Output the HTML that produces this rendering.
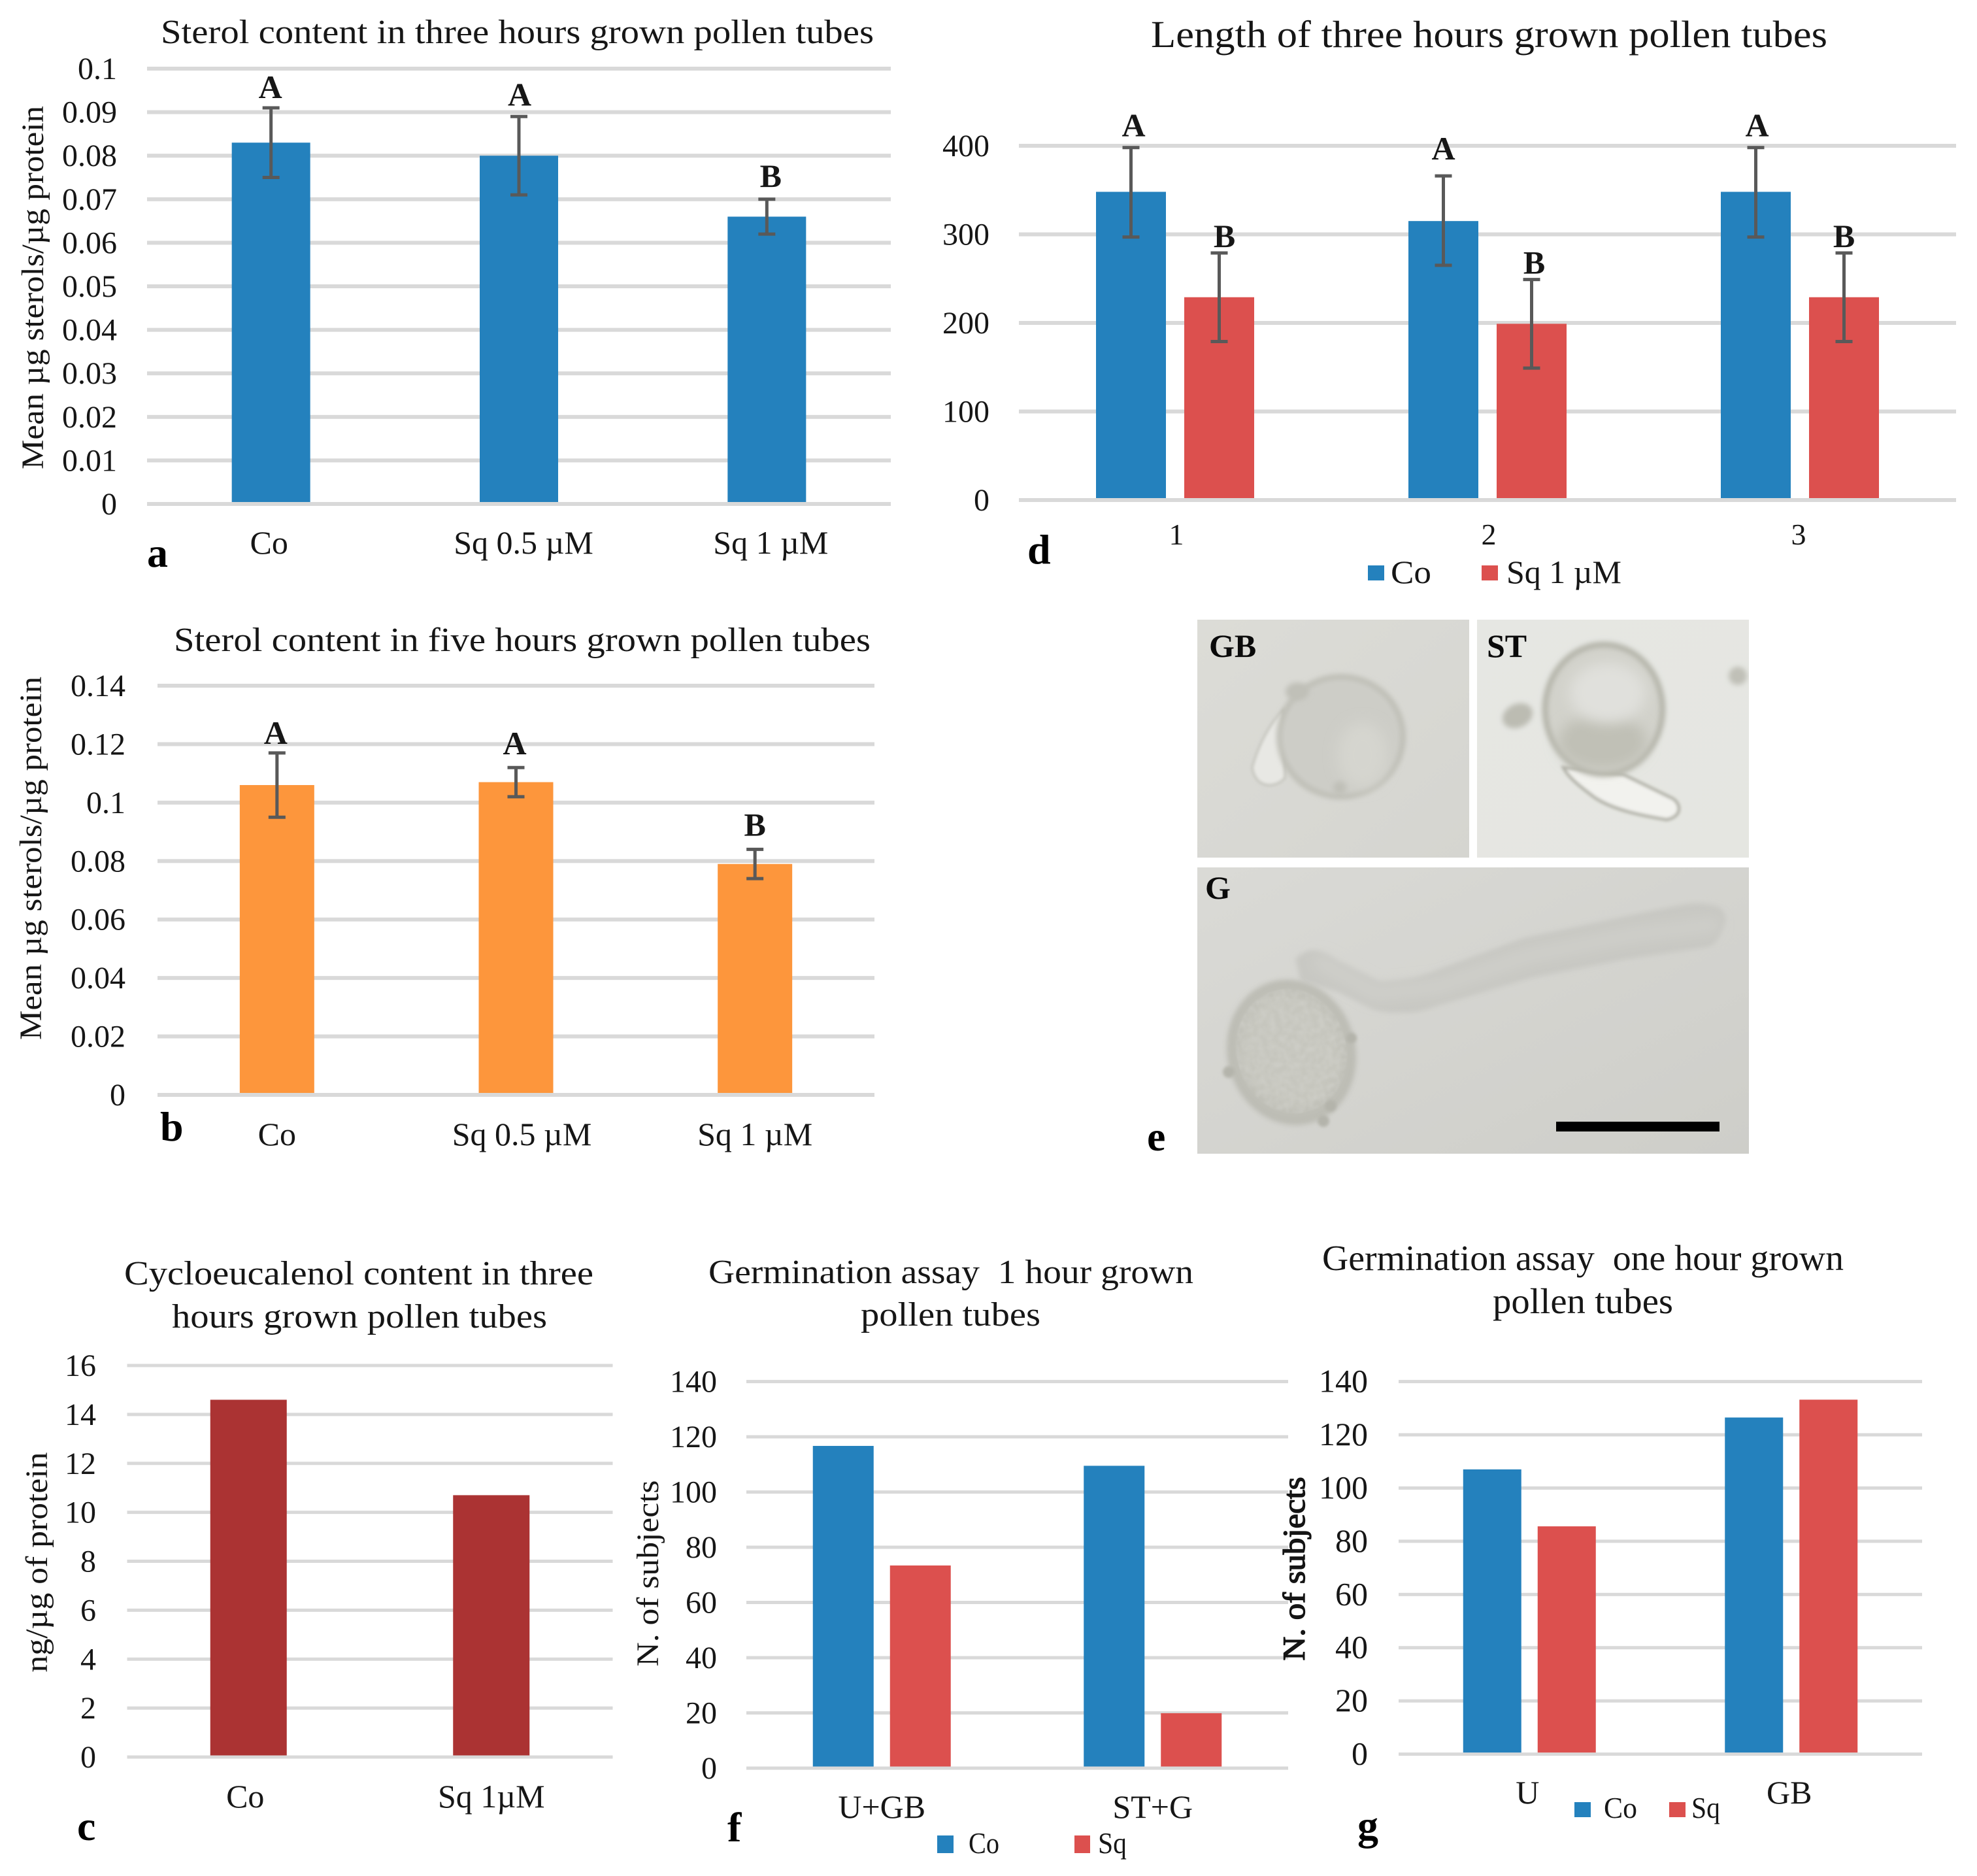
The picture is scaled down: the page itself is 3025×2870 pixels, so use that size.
<!DOCTYPE html>
<html lang="en">
<head>
<meta charset="utf-8">
<title>Sterol content and pollen tube germination figure</title>
<style>
html,body{margin:0;padding:0;background:#fff;}
body{width:3025px;height:2870px;overflow:hidden;}
svg{display:block;}
text{font-family:"Liberation Serif","DejaVu Serif",serif;fill:#161616;}
.panel-letter{font-size:64px;font-weight:bold;fill:#000;}
.title{font-size:52px;}
.axis-title{font-size:48px;}
.legend-text{font-size:46px;}
.micro-label{font-size:50px;font-weight:bold;fill:#0a0a0a;}
</style>
</head>
<body>
<svg id="figure" xmlns="http://www.w3.org/2000/svg" width="3025" height="2870" viewBox="0 0 3025 2870">
  <defs>
    <filter id="blur2" x="-30%" y="-30%" width="160%" height="160%"><feGaussianBlur stdDeviation="2.5"/></filter>
    <filter id="blur4" x="-30%" y="-30%" width="160%" height="160%"><feGaussianBlur stdDeviation="4"/></filter>
    <filter id="blur8" x="-50%" y="-50%" width="200%" height="200%"><feGaussianBlur stdDeviation="10"/></filter>
    <filter id="grain" x="0" y="0" width="100%" height="100%">
      <feTurbulence type="fractalNoise" baseFrequency="0.11" numOctaves="2" seed="4"/>
      <feColorMatrix type="matrix" values="0 0 0 0 0.66  0 0 0 0 0.66  0 0 0 0 0.62  1.8 0 0 0 -0.55"/>
      <feComposite in2="SourceGraphic" operator="in"/>
      <feGaussianBlur stdDeviation="1.2"/>
    </filter>
    <linearGradient id="bgGB" x1="0" y1="0" x2="1" y2="1"><stop offset="0" stop-color="#dcdcd7"/><stop offset="1" stop-color="#d5d5d0"/></linearGradient>
    <linearGradient id="bgST" x1="0" y1="0" x2="1" y2="1"><stop offset="0" stop-color="#e6e7e3"/><stop offset="1" stop-color="#e5e6e1"/></linearGradient>
    <linearGradient id="bgG" x1="0" y1="0" x2="1" y2="1"><stop offset="0" stop-color="#dadad6"/><stop offset="1" stop-color="#cecec9"/></linearGradient>
    <clipPath id="clipGB"><rect x="1832" y="948" width="416" height="364"/></clipPath>
    <clipPath id="clipST"><rect x="2260" y="948" width="416" height="364"/></clipPath>
    <clipPath id="clipG"><rect x="1832" y="1327" width="844" height="438"/></clipPath>
  </defs>

  <rect x="0" y="0" width="3025" height="2870" fill="#ffffff"/>

  <!-- Panel a -->
  <g id="chart-a">
    <text class="title" x="246" y="66" textLength="1091" lengthAdjust="spacingAndGlyphs">Sterol content in three hours grown pollen tubes</text>
    <text class="axis-title" transform="translate(66,440) rotate(-90)" text-anchor="middle" textLength="556" lengthAdjust="spacingAndGlyphs">Mean µg sterols/µg protein</text>
    <text class="panel-letter" x="225" y="867">a</text>
  </g>

  <!-- Panel b -->
  <g id="chart-b">
    <text class="title" x="266" y="996" textLength="1066" lengthAdjust="spacingAndGlyphs">Sterol content in five hours grown pollen tubes</text>
    <text class="axis-title" transform="translate(63,1313) rotate(-90)" text-anchor="middle" textLength="556" lengthAdjust="spacingAndGlyphs">Mean µg sterols/µg protein</text>
    <text class="panel-letter" x="245" y="1745">b</text>
  </g>

  <!-- Panel c -->
  <g id="chart-c">
    <text class="title" x="190" y="1965" textLength="718" lengthAdjust="spacingAndGlyphs">Cycloeucalenol content in three</text>
    <text class="title" x="263" y="2031" textLength="574" lengthAdjust="spacingAndGlyphs">hours grown pollen tubes</text>
    <text class="axis-title" transform="translate(72,2390) rotate(-90)" text-anchor="middle" textLength="337" lengthAdjust="spacingAndGlyphs">ng/µg of protein</text>
    <text class="panel-letter" x="118" y="2815">c</text>
  </g>

  <!-- Panel d -->
  <g id="chart-d">
    <text class="title" style="font-size:58px" x="1761" y="72" textLength="1035" lengthAdjust="spacingAndGlyphs">Length of three hours grown pollen tubes</text>
    <text class="panel-letter" x="1572" y="862">d</text>
    <g>
      <rect x="2093" y="865" width="25" height="23" fill="#2481bd"/>
      <text class="legend-text" style="font-size:50px" x="2128" y="892" textLength="62" lengthAdjust="spacingAndGlyphs">Co</text>
      <rect x="2267" y="865" width="25" height="23" fill="#dc504e"/>
      <text class="legend-text" style="font-size:50px" x="2305" y="892" textLength="176" lengthAdjust="spacingAndGlyphs">Sq 1 µM</text>
    </g>
  </g>

  <!-- Panel e: micrographs -->
  <g id="micrographs">
    <text class="panel-letter" x="1755" y="1760">e</text>

    <g clip-path="url(#clipGB)">
      <rect x="1832" y="948" width="416" height="364" fill="url(#bgGB)"/>
      <path d="M1964 1085 C1945 1105 1927 1135 1916 1174 C1920 1205 1950 1208 1966 1190 Z" fill="#e8e8e4" stroke="#c0c0b8" stroke-width="3" filter="url(#blur2)"/>
      <ellipse cx="2052" cy="1127" rx="95" ry="92" fill="#cdcdc7" stroke="#bbbbb2" stroke-width="7" filter="url(#blur4)"/>
      <ellipse cx="2085" cy="1155" rx="38" ry="50" fill="#d5d5cf" filter="url(#blur8)"/>
      <ellipse cx="1985" cy="1058" rx="18" ry="14" fill="#c0c0b8" filter="url(#blur4)"/>
      <circle cx="2050" cy="1205" r="10" fill="#c0c0b8" filter="url(#blur4)"/>
    </g>
    <text class="micro-label" x="1850" y="1005">GB</text>

    <g clip-path="url(#clipST)">
      <rect x="2260" y="948" width="416" height="364" fill="url(#bgST)"/>
      <ellipse cx="2322" cy="1095" rx="24" ry="18" transform="rotate(-25 2322 1095)" fill="#bcbcb2" filter="url(#blur4)"/>
      <circle cx="2659" cy="1034" r="14" fill="#c0c0b7" filter="url(#blur4)"/>
      <path d="M2484 1185 L2560 1222 C2574 1232 2572 1250 2550 1254 C2515 1248 2470 1240 2440 1220 C2420 1205 2400 1190 2392 1174 Z" fill="#f2f2ee" stroke="#b4b4aa" stroke-width="5" filter="url(#blur2)"/>
      <ellipse cx="2454" cy="1085" rx="90" ry="99" fill="#d2d2cb" stroke="#b0b0a5" stroke-width="8" filter="url(#blur4)"/>
      <ellipse cx="2452" cy="1135" rx="68" ry="42" fill="#c0c0b6" filter="url(#blur8)"/>
      <ellipse cx="2460" cy="1060" rx="58" ry="46" fill="#e0e0dc" filter="url(#blur8)"/>
    </g>
    <text class="micro-label" x="2275" y="1005">ST</text>

    <g clip-path="url(#clipG)">
      <rect x="1832" y="1327" width="844" height="438" fill="url(#bgG)"/>
      <path d="M1982 1466 C1995 1456 2005 1452 2013 1454 C2025 1456 2035 1462 2043 1468 L2111 1502 C2140 1500 2165 1498 2196 1485 L2331 1435 L2515 1396 L2570 1385 C2595 1380 2615 1382 2631 1388 C2642 1398 2642 1410 2637 1418 C2630 1436 2625 1445 2613 1449 L2484 1468 L2343 1496 L2202 1538 C2180 1546 2165 1550 2147 1549 C2125 1550 2110 1548 2098 1543 L2049 1518 L1990 1500 Z" fill="#c8c8c3" filter="url(#blur4)"/>
      <path d="M2020 1472 L2105 1520 L2200 1510 L2340 1462 L2500 1430 L2620 1415" fill="none" stroke="#cfcfca" stroke-width="22" stroke-linecap="round" filter="url(#blur8)"/>
      <ellipse cx="1976" cy="1610" rx="98" ry="112" transform="rotate(-15 1976 1610)" fill="#bcbcb4" filter="url(#blur4)"/>
      <ellipse cx="1976" cy="1608" rx="80" ry="92" transform="rotate(-15 1976 1608)" fill="#c6c6be" filter="url(#blur8)"/>
      <ellipse cx="1976" cy="1608" rx="84" ry="96" transform="rotate(-15 1976 1608)" fill="#888" filter="url(#grain)" opacity="0.55"/>
      <circle cx="1880" cy="1640" r="9" fill="#b4b4ab" filter="url(#blur2)"/>
      <circle cx="2068" cy="1588" r="8" fill="#b4b4ab" filter="url(#blur2)"/>
      <circle cx="2025" cy="1715" r="9" fill="#b4b4ab" filter="url(#blur2)"/>
      <circle cx="2036" cy="1692" r="9" fill="#b4b4ab" filter="url(#blur2)"/>
    </g>
    <rect x="2381" y="1716" width="250" height="15" fill="#000000"/>
    <text class="micro-label" x="1844" y="1375">G</text>
  </g>

  <!-- Panel f -->
  <g id="chart-f">
    <text class="title" x="1084" y="1963" textLength="742" lengthAdjust="spacingAndGlyphs" xml:space="preserve">Germination assay  1 hour grown</text>
    <text class="title" x="1317" y="2028" textLength="275" lengthAdjust="spacingAndGlyphs">pollen tubes</text>
    <text class="axis-title" transform="translate(1007,2407) rotate(-90)" text-anchor="middle" textLength="285" lengthAdjust="spacingAndGlyphs">N. of subjects</text>
    <text class="panel-letter" x="1113" y="2817">f</text>
    <g>
      <rect x="1434" y="2808" width="25" height="27" fill="#2481bd"/>
      <text class="legend-text" x="1482" y="2835" textLength="47" lengthAdjust="spacingAndGlyphs">Co</text>
      <rect x="1644" y="2808" width="24" height="27" fill="#dc504e"/>
      <text class="legend-text" x="1680" y="2835" textLength="44" lengthAdjust="spacingAndGlyphs">Sq</text>
    </g>
  </g>

  <!-- Panel g -->
  <g id="chart-g">
    <text class="title" style="font-size:55px" x="2023" y="1943" textLength="798" lengthAdjust="spacingAndGlyphs" xml:space="preserve">Germination assay  one hour grown</text>
    <text class="title" style="font-size:55px" x="2284" y="2009" textLength="276" lengthAdjust="spacingAndGlyphs">pollen tubes</text>
    <text class="axis-title" style="stroke:#111;stroke-width:1.4px" transform="translate(1996,2400) rotate(-90)" text-anchor="middle" textLength="281" lengthAdjust="spacingAndGlyphs">N. of subjects</text>
    <text class="panel-letter" x="2077" y="2814">g</text>
    <g>
      <rect x="2409" y="2757" width="25" height="23" fill="#2481bd"/>
      <text class="legend-text" x="2454" y="2781" textLength="51" lengthAdjust="spacingAndGlyphs">Co</text>
      <rect x="2554" y="2757" width="25" height="23" fill="#dc504e"/>
      <text class="legend-text" x="2588" y="2781" textLength="44" lengthAdjust="spacingAndGlyphs">Sq</text>
    </g>
  </g>
</svg>

<script>
// Panel a data
const aCategories = ['Co', 'Sq 0.5 µM', 'Sq 1 µM'];
const aTicks = ['0', '0.01', '0.02', '0.03', '0.04', '0.05', '0.06', '0.07', '0.08', '0.09', '0.1'];
const aValues = [0.083, 0.080, 0.066];
const aErrLow = [0.075, 0.071, 0.062];
const aErrHigh = [0.091, 0.089, 0.070];
const aLetters = ['A', 'A', 'B'];

// Panel b data
const bCategories = ['Co', 'Sq 0.5 µM', 'Sq 1 µM'];
const bTicks = ['0', '0.02', '0.04', '0.06', '0.08', '0.1', '0.12', '0.14'];
const bValues = [0.106, 0.107, 0.079];
const bErrLow = [0.095, 0.102, 0.074];
const bErrHigh = [0.117, 0.112, 0.084];
const bLetters = ['A', 'A', 'B'];

// Panel c data
const cCategories = ['Co', 'Sq 1µM'];
const cTicks = ['0', '2', '4', '6', '8', '10', '12', '14', '16'];
const cValues = [14.6, 10.7];

// Panel d data
const dCategories = ['1', '2', '3'];
const dTicks = ['0', '100', '200', '300', '400'];
const dCoValues = [348, 315, 348];
const dCoErrLow = [297, 265, 297];
const dCoErrHigh = [398, 366, 398];
const dCoLetters = ['A', 'A', 'A'];
const dSqValues = [229, 199, 229];
const dSqErrLow = [179, 149, 179];
const dSqErrHigh = [279, 249, 279];
const dSqLetters = ['B', 'B', 'B'];

// Panel f data
const fCategories = ['U+GB', 'ST+G'];
const fTicks = ['0', '20', '40', '60', '80', '100', '120', '140'];
const fCoValues = [116.7, 109.5];
const fSqValues = [73.4, 19.9];

// Panel g data
const gCategories = ['U', 'GB'];
const gTicks = ['0', '20', '40', '60', '80', '100', '120', '140'];
const gCoValues = [107, 126.5];
const gSqValues = [85.6, 133.2];

const SVG_NS = 'http://www.w3.org/2000/svg';

function shape(parent, tag, attrs) {
  const el = document.createElementNS(SVG_NS, tag);
  for (const key of Object.keys(attrs)) {
    el.setAttribute(key, attrs[key]);
  }
  parent.appendChild(el);
  return el;
}

function drawChart(cfg) {
  const root = document.getElementById(cfg.id);
  const yOf = function (v) {
    return cfg.y0 - (v / cfg.max) * (cfg.y0 - cfg.yTop);
  };
  const band = (cfg.x1 - cfg.x0) / cfg.categories.length;
  const xOf = function (i) {
    return cfg.x0 + band * (i + 0.5);
  };

  // Gridlines and tick labels
  cfg.ticks.forEach(function (label) {
    const value = Number(label);
    const grid = shape(root, 'rect', {
      x: cfg.x0,
      y: yOf(value) - cfg.gridH / 2,
      width: cfg.x1 - cfg.x0,
      height: cfg.gridH,
      fill: '#d9d9d9'
    });
    
    
    const tick = shape(root, 'text', {
      x: cfg.tickRight,
      y: yOf(value) + 16,
      'text-anchor': 'end',
      'font-size': cfg.tickSize
    });
    
    
    tick.textContent = label;
  });

  // Category labels
  cfg.categories.forEach(function (label, i) {
    const cat = shape(root, 'text', {
      x: xOf(i) + cfg.catDx[i],
      y: cfg.catY,
      'text-anchor': 'middle',
      'font-size': cfg.catSize
    });
    
    
    cat.textContent = label;
  });

  // Bars, significance letters, error bars
  cfg.series.forEach(function (s, si) {
    s.values.forEach(function (v, i) {
      const cx = xOf(i) + cfg.offsets[si];
      const bar = shape(root, 'rect', {
        x: cx - cfg.barW / 2,
        y: yOf(v),
        width: cfg.barW,
        height: Math.max(0, yOf(0) - cfg.gridH / 2 - yOf(v)),
        fill: s.color
      });
      
      

      if (s.letters) {
        const nudge = s.nudge[i];
        const letter = shape(root, 'text', {
          x: cx + nudge[0],
          y: yOf(s.errHigh[i]) - nudge[1],
          'text-anchor': 'middle',
          'font-size': 50,
          'font-weight': 'bold',
          fill: '#000'
        });
        
        
        letter.textContent = s.letters[i];
      }

      if (s.errHigh) {
        const stem = shape(root, 'line', {
          x1: cx, x2: cx,
          y1: yOf(s.errHigh[i]), y2: yOf(s.errLow[i]),
          stroke: '#595959', 'stroke-width': 5
        });
        
        
        [s.errHigh[i], s.errLow[i]].forEach(function (e) {
          const cap = shape(root, 'line', {
            x1: cx - 13, x2: cx + 13,
            y1: yOf(e), y2: yOf(e),
            stroke: '#595959', 'stroke-width': 5
          });
          
          
        });
      }
    });
  });
}

drawChart({
  id: 'chart-a', categories: aCategories, ticks: aTicks, max: 0.1,
  x0: 225, x1: 1363, yTop: 105, y0: 771, gridH: 6,
  barW: 120, offsets: [0], tickRight: 179, tickSize: 48,
  catY: 847, catSize: 50, catDx: [-3, 7, 6],
  series: [{ name: 'co-sq', values: aValues, errLow: aErrLow, errHigh: aErrHigh, letters: aLetters, color: '#2481bd',
    nudge: [[-1, 15], [1, 17], [6, 19]] }]
});

drawChart({
  id: 'chart-b', categories: bCategories, ticks: bTicks, max: 0.14,
  x0: 241, x1: 1338, yTop: 1049, y0: 1675, gridH: 6,
  barW: 114, offsets: [0], tickRight: 192, tickSize: 48,
  catY: 1752, catSize: 50, catDx: [0, 9, 0],
  series: [{ name: 'co-sq', values: bValues, errLow: bErrLow, errHigh: bErrHigh, letters: bLetters, color: '#fd963c',
    nudge: [[-2, 14], [-2, 20], [0, 21]] }]
});

drawChart({
  id: 'chart-c', categories: cCategories, ticks: cTicks, max: 16,
  x0: 194.5, x1: 937.5, yTop: 2089, y0: 2688, gridH: 5,
  barW: 117, offsets: [0], tickRight: 147, tickSize: 48,
  catY: 2765, catSize: 50, catDx: [-5, 0],
  series: [{ name: 'cycloeucalenol', values: cValues, color: '#ab3333' }]
});

drawChart({
  id: 'chart-d', categories: dCategories, ticks: dTicks, max: 400,
  x0: 1559, x1: 2993, yTop: 223, y0: 765, gridH: 6,
  barW: 107, offsets: [-67.5, 67.5], tickRight: 1514, tickSize: 48,
  catY: 833, catSize: 46, catDx: [2, 2, -2],
  series: [
    { name: 'co', values: dCoValues, errLow: dCoErrLow, errHigh: dCoErrHigh, letters: dCoLetters, color: '#2481bd',
      nudge: [[4, 17], [0, 25], [2, 17]] },
    { name: 'sq', values: dSqValues, errLow: dSqErrLow, errHigh: dSqErrHigh, letters: dSqLetters, color: '#dc504e',
      nudge: [[8, 9], [4, 9], [0, 9]] }
  ]
});

drawChart({
  id: 'chart-f', categories: fCategories, ticks: fTicks, max: 140,
  x0: 1142, x1: 1971, yTop: 2113.6, y0: 2705, gridH: 5,
  barW: 93, offsets: [-59, 59], tickRight: 1097, tickSize: 48,
  catY: 2781, catSize: 50, catDx: [0, 0],
  series: [
    { name: 'co', values: fCoValues, color: '#2481bd' },
    { name: 'sq', values: fSqValues, color: '#dc504e' }
  ]
});

drawChart({
  id: 'chart-g', categories: gCategories, ticks: gTicks, max: 140,
  x0: 2140, x1: 2941, yTop: 2113.6, y0: 2683.6, gridH: 5,
  barW: 89, offsets: [-57, 57], tickRight: 2093, tickSize: 50,
  catY: 2759, catSize: 50, catDx: [-3, -3],
  series: [
    { name: 'co', values: gCoValues, color: '#2481bd' },
    { name: 'sq', values: gSqValues, color: '#dc504e' }
  ]
});
</script>
</body>
</html>
